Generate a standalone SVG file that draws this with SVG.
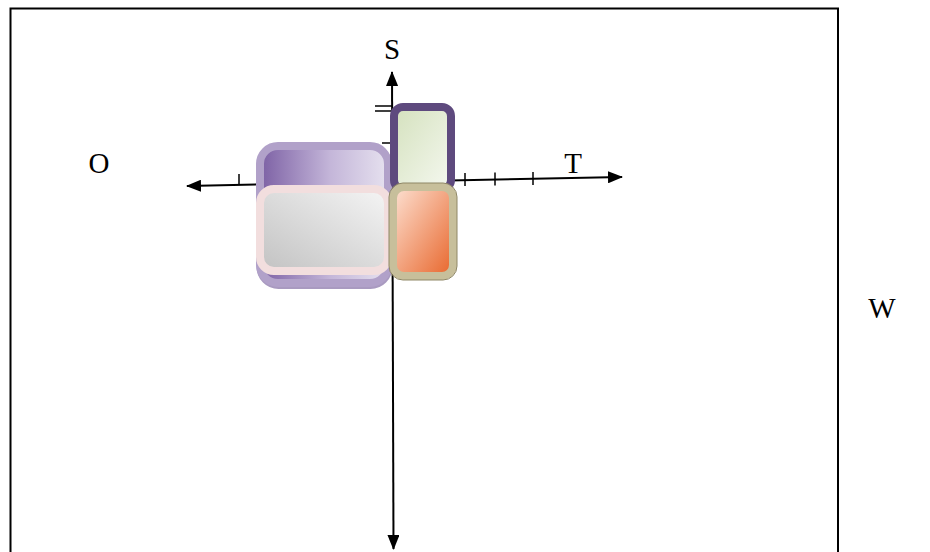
<svg xmlns="http://www.w3.org/2000/svg" width="930" height="552" viewBox="0 0 930 552">
<style>
.ax{stroke:#000;stroke-width:2;fill:none}
.tk{stroke:#000;stroke-width:1.5;fill:none}
.lbl{font-family:"Liberation Serif","Times New Roman",serif;font-size:29px;fill:#000;text-anchor:middle}
</style>
<defs>
<marker id="arr" markerUnits="userSpaceOnUse" markerWidth="15" markerHeight="12" refX="14" refY="6" orient="auto-start-reverse">
<path d="M0,0 L15,6 L0,12 z" fill="#000"/>
</marker>
<linearGradient id="gPurple" x1="0" y1="0" x2="1" y2="0">
<stop offset="0" stop-color="#7c60a4"/>
<stop offset="0.55" stop-color="#c4b6d9"/>
<stop offset="1" stop-color="#e6e1ef"/>
</linearGradient>
<linearGradient id="gGray" x1="0" y1="1" x2="1" y2="0">
<stop offset="0" stop-color="#c2c2c2"/>
<stop offset="1" stop-color="#f5f5f5"/>
</linearGradient>
<linearGradient id="gGreen" x1="0" y1="0" x2="1" y2="1">
<stop offset="0" stop-color="#d4e1bd"/>
<stop offset="1" stop-color="#f5f8f0"/>
</linearGradient>
<linearGradient id="gOrange" x1="0" y1="0" x2="1" y2="1">
<stop offset="0" stop-color="#fde2d4"/>
<stop offset="1" stop-color="#e8652a"/>
</linearGradient>
</defs>
<rect x="10.5" y="8.5" width="827.5" height="570" fill="none" stroke="#000" stroke-width="2"/>
<g id="connectors">
<line class="ax" x1="392" y1="72" x2="393.5" y2="549" marker-start="url(#arr)" marker-end="url(#arr)"/>
<line class="ax" x1="187" y1="186" x2="622" y2="177" marker-start="url(#arr)" marker-end="url(#arr)"/>
<line class="tk" x1="239" y1="174" x2="239" y2="185"/>
<line class="tk" x1="465" y1="173" x2="465" y2="186"/>
<line class="tk" x1="495" y1="172.5" x2="495" y2="185.5"/>
<line class="tk" x1="533" y1="172" x2="533" y2="185"/>
<line class="tk" x1="375" y1="106" x2="392" y2="106"/>
<line class="tk" x1="375" y1="111" x2="392" y2="111"/>
<line class="tk" x1="382" y1="143" x2="392" y2="143"/>
</g>
<g id="node-purple">
<rect x="260.5" y="148" width="128" height="137" rx="18" fill="#a596bb" stroke="#a99ac0" stroke-width="8"/>
<rect x="260" y="146" width="128" height="137" rx="18" fill="url(#gPurple)" stroke="#b1a1c9" stroke-width="8"/>
</g>
<g id="node-gray">
<rect x="260" y="189" width="128" height="82" rx="14" fill="url(#gGray)" stroke="#f2dede" stroke-width="8"/>
</g>
<g id="node-green">
<rect x="394" y="107" width="57" height="82" rx="9" fill="url(#gGreen)" stroke="#5e4a7e" stroke-width="8"/>
</g>
<g id="node-orange">
<rect x="393" y="187" width="60" height="89" rx="11" fill="url(#gOrange)" stroke="#c7bf9b" stroke-width="8"/>
<rect x="389" y="183" width="68" height="97" rx="14" fill="none" stroke="#8f8766" stroke-width="1"/>
</g>
<g id="labels">
<text class="lbl" x="392" y="59">S</text>
<text class="lbl" x="99" y="173">O</text>
<text class="lbl" x="573" y="173">T</text>
<text class="lbl" x="882" y="318">W</text>
</g>
</svg>
